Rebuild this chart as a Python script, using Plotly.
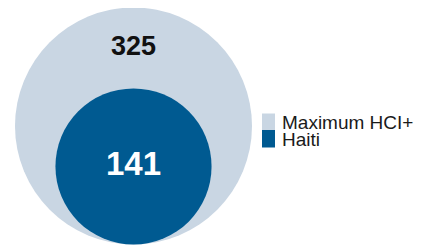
import math
import plotly.graph_objects as go

# Data
categories = ["Maximum HCI+", "Haiti"]
values = [325, 141]
colors = ["#C9D6E3", "#005A91"]
label_colors = ["#111111", "#FFFFFF"]
label_sizes = [27, 33]

# page has an 8px body margin; figure sized so it fills the window exactly
OFF = 8
W, H = 423 - OFF, 247 - OFF
scale = 118.5 / math.sqrt(max(values))  # px per data unit
cx_px, base_px = 133.5 - OFF, 244.5 - OFF

radii = [math.sqrt(v) for v in values]
x_range = [-cx_px / scale, (W - cx_px) / scale]
y_range = [-(H - base_px) / scale, base_px / scale]

fig = go.Figure()
shapes = []
for r, c in zip(radii, colors):
    shapes.append(dict(type="circle", xref="x", yref="y", x0=-r, x1=r, y0=0, y1=2 * r,
                       fillcolor=c, line=dict(width=0), layer="below"))

label_y = [(2 * radii[0] + 2 * radii[1]) / 2, radii[1]]
for i in range(len(values)):
    fig.add_trace(go.Scatter(x=[0], y=[label_y[i]], mode="text", text=["<b>%d</b>" % values[i]],
                             textfont=dict(family="Liberation Sans, Arial, sans-serif",
                                           size=label_sizes[i], color=label_colors[i]),
                             textposition="middle center", showlegend=False, hoverinfo="skip"))

# manual legend (pixel positions in the window)
annotations = []
lx0, lx1 = 262 - OFF, 275 - OFF
ly = [(113.5 - OFF, 130 - OFF), (130 - OFF, 147.5 - OFF)]
for (t, b), c, name in zip(ly, colors, categories):
    shapes.append(dict(type="rect", xref="paper", yref="paper", x0=lx0 / W, x1=lx1 / W,
                       y0=1 - b / H, y1=1 - t / H, fillcolor=c, line=dict(width=0)))
    annotations.append(dict(xref="paper", yref="paper", x=(279.5 - OFF) / W, y=1 - ((t + b) / 2 + 0.5) / H,
                            text=name, showarrow=False, xanchor="left", yanchor="middle",
                            font=dict(family="Liberation Sans, Arial, sans-serif", size=19,
                                      color="#1A1A1A")))

fig.update_layout(
    width=W, height=H, margin=dict(l=0, r=0, t=0, b=0),
    paper_bgcolor="white", plot_bgcolor="white",
    xaxis=dict(range=x_range, visible=False, fixedrange=True),
    yaxis=dict(range=y_range, visible=False, fixedrange=True),
    shapes=shapes, annotations=annotations, showlegend=False,
)
fig.write_html("out.html", config={"displayModeBar": False})
